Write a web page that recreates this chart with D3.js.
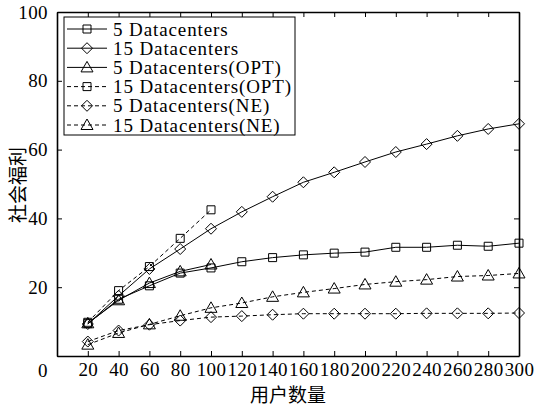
<!DOCTYPE html>
<html>
<head>
<meta charset="utf-8">
<script src="https://cdn.jsdelivr.net/npm/d3@7/dist/d3.min.js"></script>
<style>
  body { margin: 0; background: #fff; }
  svg { display: block; }
  .axis text { font-family: "Liberation Serif", "DejaVu Serif", serif; font-size: 19px; letter-spacing: 0.4px; fill: #000; }
  .axis path, .axis line { stroke: #000; }
</style>
</head>
<body>
<svg id="chart" width="534" height="407"></svg>
<script>
  var users = [20, 40, 60, 80, 100, 120, 140, 160, 180, 200, 220, 240, 260, 280, 300];
  var usersOpt = [20, 40, 60, 80, 100];

  var dc5 = [9.4, 16.5, 20.4, 24.1, 25.6, 27.4, 28.6, 29.4, 29.9, 30.2, 31.6, 31.6, 32.2, 31.9, 32.8];
  var dc15 = [9.3, 17.5, 25.3, 31.1, 37.0, 41.9, 46.3, 50.5, 53.4, 56.4, 59.3, 61.6, 64.0, 66.0, 67.5];
  var dc5Opt = [9.5, 16.2, 21.2, 24.6, 26.6];
  var dc15Opt = [9.8, 19.0, 26.0, 34.2, 42.5];
  var dc5Ne = [4.2, 7.4, 9.1, 10.3, 11.3, 11.6, 12.0, 12.3, 12.3, 12.3, 12.3, 12.4, 12.4, 12.4, 12.5];
  var dc15Ne = [3.3, 6.7, 9.2, 11.7, 14.0, 15.4, 17.2, 18.5, 19.6, 20.8, 21.6, 22.2, 23.1, 23.4, 24.0];

  var xTicks = [20, 40, 60, 80, 100, 120, 140, 160, 180, 200, 220, 240, 260, 280, 300];
  var yTicks = [0, 20, 40, 60, 80, 100];

  var series = [
    {name: '5 Datacenters', x: users, y: dc5, marker: 'square', dash: null},
    {name: '15 Datacenters', x: users, y: dc15, marker: 'diamond', dash: null},
    {name: '5 Datacenters(OPT)', x: usersOpt, y: dc5Opt, marker: 'triangle', dash: null},
    {name: '15 Datacenters(OPT)', x: usersOpt, y: dc15Opt, marker: 'square', dash: '4,3'},
    {name: '5 Datacenters(NE)', x: users, y: dc5Ne, marker: 'diamond', dash: '4,3'},
    {name: '15 Datacenters(NE)', x: users, y: dc15Ne, marker: 'triangle', dash: '4,3'}
  ];

  var svg = d3.select('#chart'),
      margin = {top: 12, right: 15, bottom: 51, left: 57},
      width = +svg.attr('width') - margin.left - margin.right,
      height = +svg.attr('height') - margin.top - margin.bottom,
      g = svg.append('g').attr('transform', 'translate(' + margin.left + ',' + margin.top + ')');

  var xScale = d3.scaleLinear().domain([0, 300]).range([0, width]);
  var yScale = d3.scaleLinear().domain([0, 100]).range([height, 0]);

  // inward ticks on all four sides, like the matlab box
  g.append('g').attr('class', 'x axis')
      .attr('transform', 'translate(0,' + height + ')')
      .call(d3.axisBottom(xScale).tickValues(xTicks).tickSize(-5).tickPadding(10).tickSizeOuter(0));
  g.append('g').attr('class', 'x axis top')
      .call(d3.axisTop(xScale).tickValues(xTicks).tickSize(-5).tickFormat('').tickSizeOuter(0));
  g.append('g').attr('class', 'y axis')
      .call(d3.axisLeft(yScale).tickValues(yTicks).tickSize(-5).tickPadding(9).tickSizeOuter(0));
  g.append('g').attr('class', 'y axis right')
      .attr('transform', 'translate(' + width + ',0)')
      .call(d3.axisRight(yScale).tickValues(yTicks).tickSize(-5).tickFormat('').tickSizeOuter(0));

  g.selectAll('.axis path').attr('stroke-width', 1.6);
  g.selectAll('.axis line').attr('stroke-width', 1);
  // the zero label sits below the corner
  g.selectAll('.y.axis .tick text').filter(function (d) { return d === 0; })
      .attr('dy', '1.1em');
  g.selectAll('.x.axis .tick text').attr('dy', '0.55em');

  function markerPath(type) {
    if (type === 'square') return 'M-4,-4L4,-4L4,4L-4,4Z';
    if (type === 'diamond') return 'M0,-5.5L5.5,0L0,5.5L-5.5,0Z';
    return 'M0,-6L6,4.5L-6,4.5Z';
  }

  var line = d3.line()
      .x(function (d) { return xScale(d[0]); })
      .y(function (d) { return yScale(d[1]); });

  series.forEach(function (s) {
    var pts = s.x.map(function (v, i) { return [v, s.y[i]]; });
    g.append('path')
        .datum(pts)
        .attr('d', line)
        .attr('fill', 'none')
        .attr('stroke', '#000')
        .attr('stroke-width', 1)
        .attr('stroke-dasharray', s.dash);
    g.append('g').selectAll('path')
        .data(pts)
      .enter().append('path')
        .attr('transform', function (d) { return 'translate(' + xScale(d[0]) + ',' + yScale(d[1]) + ')'; })
        .attr('d', markerPath(s.marker))
        .attr('fill', 'none')
        .attr('stroke', '#000')
        .attr('stroke-width', 1);
  });

  // legend
  var legend = g.append('g').attr('transform', 'translate(7,5)');
  legend.append('rect')
      .attr('width', 231)
      .attr('height', 118)
      .attr('fill', '#fff')
      .attr('stroke', '#000')
      .attr('stroke-width', 1);
  var rows = legend.selectAll('g.row')
      .data(series)
    .enter().append('g')
      .attr('class', 'row')
      .attr('transform', function (d, i) { return 'translate(0,' + (12 + i * 19.2) + ')'; });
  rows.append('line')
      .attr('x1', 3).attr('x2', 43)
      .attr('stroke', '#000')
      .attr('stroke-dasharray', function (d) { return d.dash; });
  rows.append('path')
      .attr('transform', 'translate(23,0)')
      .attr('d', function (d) { return markerPath(d.marker); })
      .attr('fill', 'none')
      .attr('stroke', '#000');
  rows.append('text')
      .attr('x', 49)
      .attr('dy', '0.35em')
      .style('font-family', '"Liberation Serif", "DejaVu Serif", serif')
      .style('font-size', '19px')
      .style('letter-spacing', '0.9px')
      .text(function (d) { return d.name; });

  // axis titles
  svg.append('text')
      .attr('x', 288)
      .attr('y', 402)
      .attr('text-anchor', 'middle')
      .style('font-family', '"Noto Sans CJK SC", sans-serif')
      .style('font-size', '19px')
      .text('用户数量');
  svg.append('text')
      .attr('transform', 'translate(25,185) rotate(-90)')
      .attr('text-anchor', 'middle')
      .style('font-family', '"Noto Sans CJK SC", sans-serif')
      .style('font-size', '19px')
      .text('社会福利');
</script>
</body>
</html>
